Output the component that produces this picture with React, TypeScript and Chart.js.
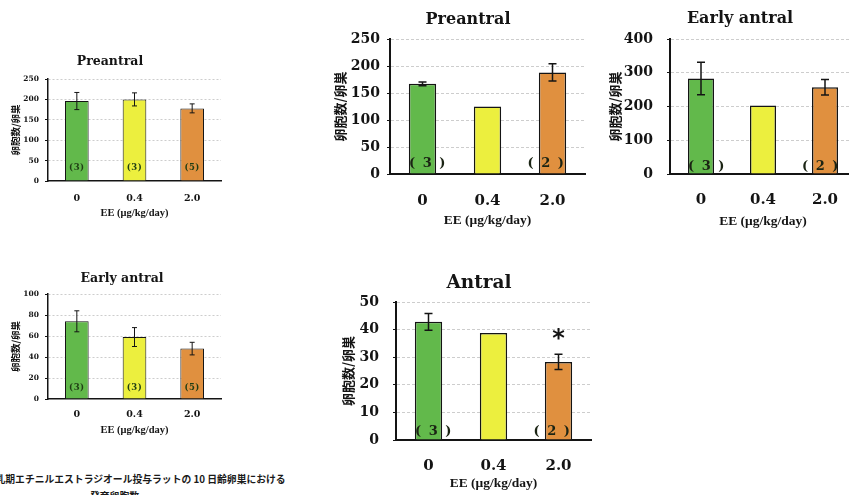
import React, { useEffect, useRef } from "react";
import { Chart, registerables } from "chart.js";

Chart.register(...registerables);

// Dose groups, EE (μg/kg/day)
const doses = ["0", "0.4", "2.0"];
const barColors = ["#62b94b", "#ecef3e", "#e0903f"];

// Left column: follicle counts per ovary (mean, SEM, n)
const preantralLeft = [196, 200, 178];
const preantralLeftSem = [21, 16, 11];
const earlyAntralLeft = [74, 59, 48];
const earlyAntralLeftSem = [10, 9, 6];
const groupSizeLeft = ["(3)", "(3)", "(5)"];

// Right group: follicle counts per ovary (mean, SEM, n)
const preantralRight = [167, 125, 188];
const preantralRightSem = [3.5, 0, 16];
const earlyAntralRight = [283, 203, 257];
const earlyAntralRightSem = [48, 0, 23];
const antralRight = [42.8, 38.8, 28.3];
const antralRightSem = [3, 0, 2.8];
const groupSizeRight = ["( 3 )", "", "( 2 )"];
const antralSignificance = ["", "", "*"];

const yAxisTitle = "卵胞数/卵巣";
const xAxisTitle = "EE (μg/kg/day)";
const captionLine1 = "乳期エチニルエストラジオール投与ラットの 10 日齢卵巣における";
const captionLine2 = "発育卵胞数";

const SERIF = "'DejaVu Serif', serif";
const TIMES = "'Liberation Serif', serif";
const GOTHIC = "'Noto Sans CJK JP', sans-serif";
const INK = "#141414";

type Style = {
  yTick: number; xTick: number; title: number; xTitle: number; yTitle: number;
  nFont: number; nSpacing: number; nColor: string; axisW: number; barBorder: number; errW: number;
  cap: number; dash: number[]; tickLen: number; barPct: number;
};

const small: Style = {
  yTick: 7.5, xTick: 9.5, title: 12.5, xTitle: 10.5, yTitle: 9.5,
  nFont: 8.5, nSpacing: 0.5, nColor: "#1f3d14", axisW: 1.5, barBorder: 1, errW: 1,
  cap: 5, dash: [2, 2], tickLen: 3, barPct: 0.41,
};
const big: Style = {
  yTick: 14, xTick: 15, title: 16, xTitle: 13.5, yTitle: 13,
  nFont: 13, nSpacing: 1.5, nColor: "#1b2414", axisW: 2, barBorder: 1.5, errW: 1.5,
  cap: 8, dash: [3, 2], tickLen: 3, barPct: 0.42,
};

type Panel = {
  key: string;
  title: string;
  values: number[];
  sem: number[];
  groupSize: string[];
  marks?: string[];
  max: number;
  step: number;
  style: Style;
  titleSize?: number;
  // canvas box on the page
  box: { left: number; top: number; w: number; h: number };
  // plot area inside the canvas
  area: { left: number; top: number; right: number; bottom: number };
  titleAt: [number, number];
  yTitleX: number;
  yTickGap: number;
  xTickY: number;
  xTitleY: number;
  nLift: number;
  nShift: number[];
};

const panels: Panel[] = [
  {
    key: "pre-left", title: "Preantral", values: preantralLeft, sem: preantralLeftSem,
    groupSize: groupSizeLeft, max: 250, step: 50, style: small,
    box: { left: 0, top: 40, w: 230, h: 185 },
    area: { left: 48, top: 39, right: 221, bottom: 141 },
    titleAt: [110, 22], yTitleX: 15, yTickGap: 9, xTickY: 159, xTitleY: 173,
    nLift: 13, nShift: [0, 0, 0],
  },
  {
    key: "early-left", title: "Early antral", values: earlyAntralLeft, sem: earlyAntralLeftSem,
    groupSize: groupSizeLeft, max: 100, step: 20, style: small,
    box: { left: 0, top: 255, w: 230, h: 185 },
    area: { left: 48, top: 39, right: 221, bottom: 144 },
    titleAt: [122, 24], yTitleX: 15, yTickGap: 9, xTickY: 160, xTitleY: 175,
    nLift: 11, nShift: [0, 0, 0],
  },
  {
    key: "pre-right", title: "Preantral", values: preantralRight, sem: preantralRightSem,
    groupSize: groupSizeRight, max: 250, step: 50, style: big,
    box: { left: 325, top: 0, w: 265, h: 232 },
    area: { left: 65, top: 39, right: 260, bottom: 174 },
    titleAt: [143, 20], yTitleX: 15.5, yTickGap: 10, xTickY: 201, xTitleY: 221,
    nLift: 10, nShift: [5.5, 0, -6],
  },
  {
    key: "early-right", title: "Early antral", values: earlyAntralRight, sem: earlyAntralRightSem,
    groupSize: groupSizeRight, max: 400, step: 100, style: big,
    box: { left: 600, top: 0, w: 260, h: 232 },
    area: { left: 70, top: 39, right: 256, bottom: 174 },
    titleAt: [140, 19], yTitleX: 15, yTickGap: 17, xTickY: 200, xTitleY: 222,
    nLift: 7, nShift: [6, 0, -4],
  },
  {
    key: "antral-right", title: "Antral", values: antralRight, sem: antralRightSem,
    groupSize: groupSizeRight, marks: antralSignificance, max: 50, step: 10, style: big,
    titleSize: 18.5,
    box: { left: 330, top: 262, w: 265, h: 233 },
    area: { left: 66, top: 40, right: 261, bottom: 178 },
    titleAt: [149, 21], yTitleX: 18, yTickGap: 17, xTickY: 204, xTitleY: 222,
    nLift: 8, nShift: [5.5, 0, -6],
  },
];

// Error bars, group-size labels, significance marks and the panel heading
function decorations(p: Panel) {
  const s = p.style;
  return {
    id: "decor-" + p.key,
    afterDatasetsDraw(chart: Chart) {
      const { ctx } = chart;
      const y = chart.scales.y;
      const meta = chart.getDatasetMeta(0);
      meta.data.forEach((bar: any, i: number) => {
        const v = p.values[i];
        const e = p.sem[i];
        if (e > 0) {
          const top = y.getPixelForValue(v + e);
          const bot = y.getPixelForValue(v - e);
          ctx.save();
          ctx.strokeStyle = INK;
          ctx.lineWidth = s.errW;
          ctx.beginPath();
          ctx.moveTo(bar.x, top);
          ctx.lineTo(bar.x, bot);
          ctx.moveTo(bar.x - s.cap / 2, top);
          ctx.lineTo(bar.x + s.cap / 2, top);
          ctx.moveTo(bar.x - s.cap / 2, bot);
          ctx.lineTo(bar.x + s.cap / 2, bot);
          ctx.stroke();
          ctx.restore();
        }
        const label = p.groupSize[i];
        if (label) {
          ctx.save();
          ctx.font = `bold ${s.nFont}px ${SERIF}`;
          (ctx as any).letterSpacing = `${s.nSpacing}px`;
          ctx.fillStyle = s.nColor;
          ctx.textAlign = "center";
          ctx.textBaseline = "middle";
          ctx.fillText(label, bar.x + p.nShift[i], chart.chartArea.bottom - p.nLift);
          ctx.restore();
        }
        const mark = p.marks ? p.marks[i] : "";
        if (mark) {
          const top = y.getPixelForValue(v + e);
          ctx.save();
          ctx.font = `bold 24px 'DejaVu Sans', sans-serif`;
          ctx.fillStyle = INK;
          ctx.textAlign = "center";
          ctx.textBaseline = "alphabetic";
          ctx.fillText(mark, bar.x, top - 8);
          ctx.restore();
        }
      });
    },
    afterDraw(chart: Chart) {
      const { ctx } = chart;
      ctx.save();
      ctx.font = `bold ${p.titleSize ?? s.title}px ${SERIF}`;
      ctx.fillStyle = INK;
      ctx.textAlign = "center";
      ctx.textBaseline = "middle";
      ctx.fillText(p.title, p.titleAt[0], p.titleAt[1]);
      ctx.restore();
    },
  };
}

function BarPanel({ p }: { p: Panel }) {
  const ref = useRef<HTMLCanvasElement | null>(null);
  useEffect(() => {
    const canvas = ref.current;
    if (!canvas) return;
    const s = p.style;
    const xAxisH = p.box.h - p.area.bottom;
    const chart = new Chart(canvas, {
      type: "bar",
      data: {
        labels: doses,
        datasets: [
          {
            data: p.values,
            backgroundColor: barColors,
            borderColor: INK,
            borderWidth: s.barBorder,
            categoryPercentage: 1,
            barPercentage: s.barPct,
          },
        ],
      },
      options: {
        responsive: false,
        maintainAspectRatio: false,
        animation: false,
        devicePixelRatio: 1,
        layout: {
          padding: { left: 0, top: p.area.top, right: p.box.w - p.area.right, bottom: 0 },
        },
        plugins: {
          legend: { display: false },
          title: { display: false },
          tooltip: { enabled: false },
        },
        scales: {
          x: {
            grid: { display: false, drawTicks: false },
            border: { color: INK, width: s.axisW },
            ticks: {
              color: INK,
              font: { family: SERIF, size: s.xTick, weight: "bold" },
              padding: p.xTickY - p.area.bottom - (s.xTick * 1.2) / 2,
            },
            title: {
              display: true,
              text: xAxisTitle,
              color: INK,
              font: { family: TIMES, size: s.xTitle, weight: "bold" },
              padding: { top: 0, bottom: p.box.h - p.xTitleY - (s.xTitle * 1.2) / 2 },
            },
            afterFit: (scale: any) => {
              scale.height = xAxisH;
            },
          },
          y: {
            min: 0,
            max: p.max,
            ticks: {
              stepSize: p.step,
              color: INK,
              font: { family: SERIF, size: s.yTick, weight: "bold" },
              padding: p.yTickGap - s.tickLen,
            },
            grid: {
              color: (c: any) => (c.tick && c.tick.value === 0 ? "rgba(0,0,0,0)" : "#cdcdcd"),
              lineWidth: 1,
              drawTicks: true,
              tickLength: s.tickLen,
              tickColor: INK,
              tickWidth: 1,
              tickBorderDash: [],
            },
            border: { color: INK, width: s.axisW, dash: s.dash },
            title: {
              display: true,
              text: yAxisTitle,
              color: INK,
              font: { family: GOTHIC, size: s.yTitle, weight: "bold" },
              padding: { top: p.yTitleX - (s.yTitle * 1.2) / 2, bottom: 0 },
            },
            afterFit: (scale: any) => {
              scale.width = p.area.left;
            },
          },
        },
      },
      plugins: [decorations(p)],
    } as any);
    return () => chart.destroy();
  }, [p]);

  return (
    <canvas
      ref={ref}
      width={p.box.w}
      height={p.box.h}
      style={{
        position: "absolute",
        left: p.box.left,
        top: p.box.top,
        width: p.box.w,
        height: p.box.h,
      }}
    />
  );
}

export default function App() {
  const caption: React.CSSProperties = {
    position: "absolute",
    fontFamily: GOTHIC,
    fontWeight: 700,
    fontSize: 9.8,
    lineHeight: "12px",
    color: "#1a1a1a",
    whiteSpace: "nowrap",
  };
  return (
    <div
      style={{
        position: "fixed",
        left: 0,
        top: 0,
        width: 849,
        height: 495,
        overflow: "hidden",
        background: "#ffffff",
      }}
    >
      {panels.map((p) => (
        <BarPanel key={p.key} p={p} />
      ))}
      <div style={{ ...caption, left: -4.5, top: 473 }}>{captionLine1}</div>
      <div style={{ ...caption, left: 90, top: 490 }}>{captionLine2}</div>
    </div>
  );
}
